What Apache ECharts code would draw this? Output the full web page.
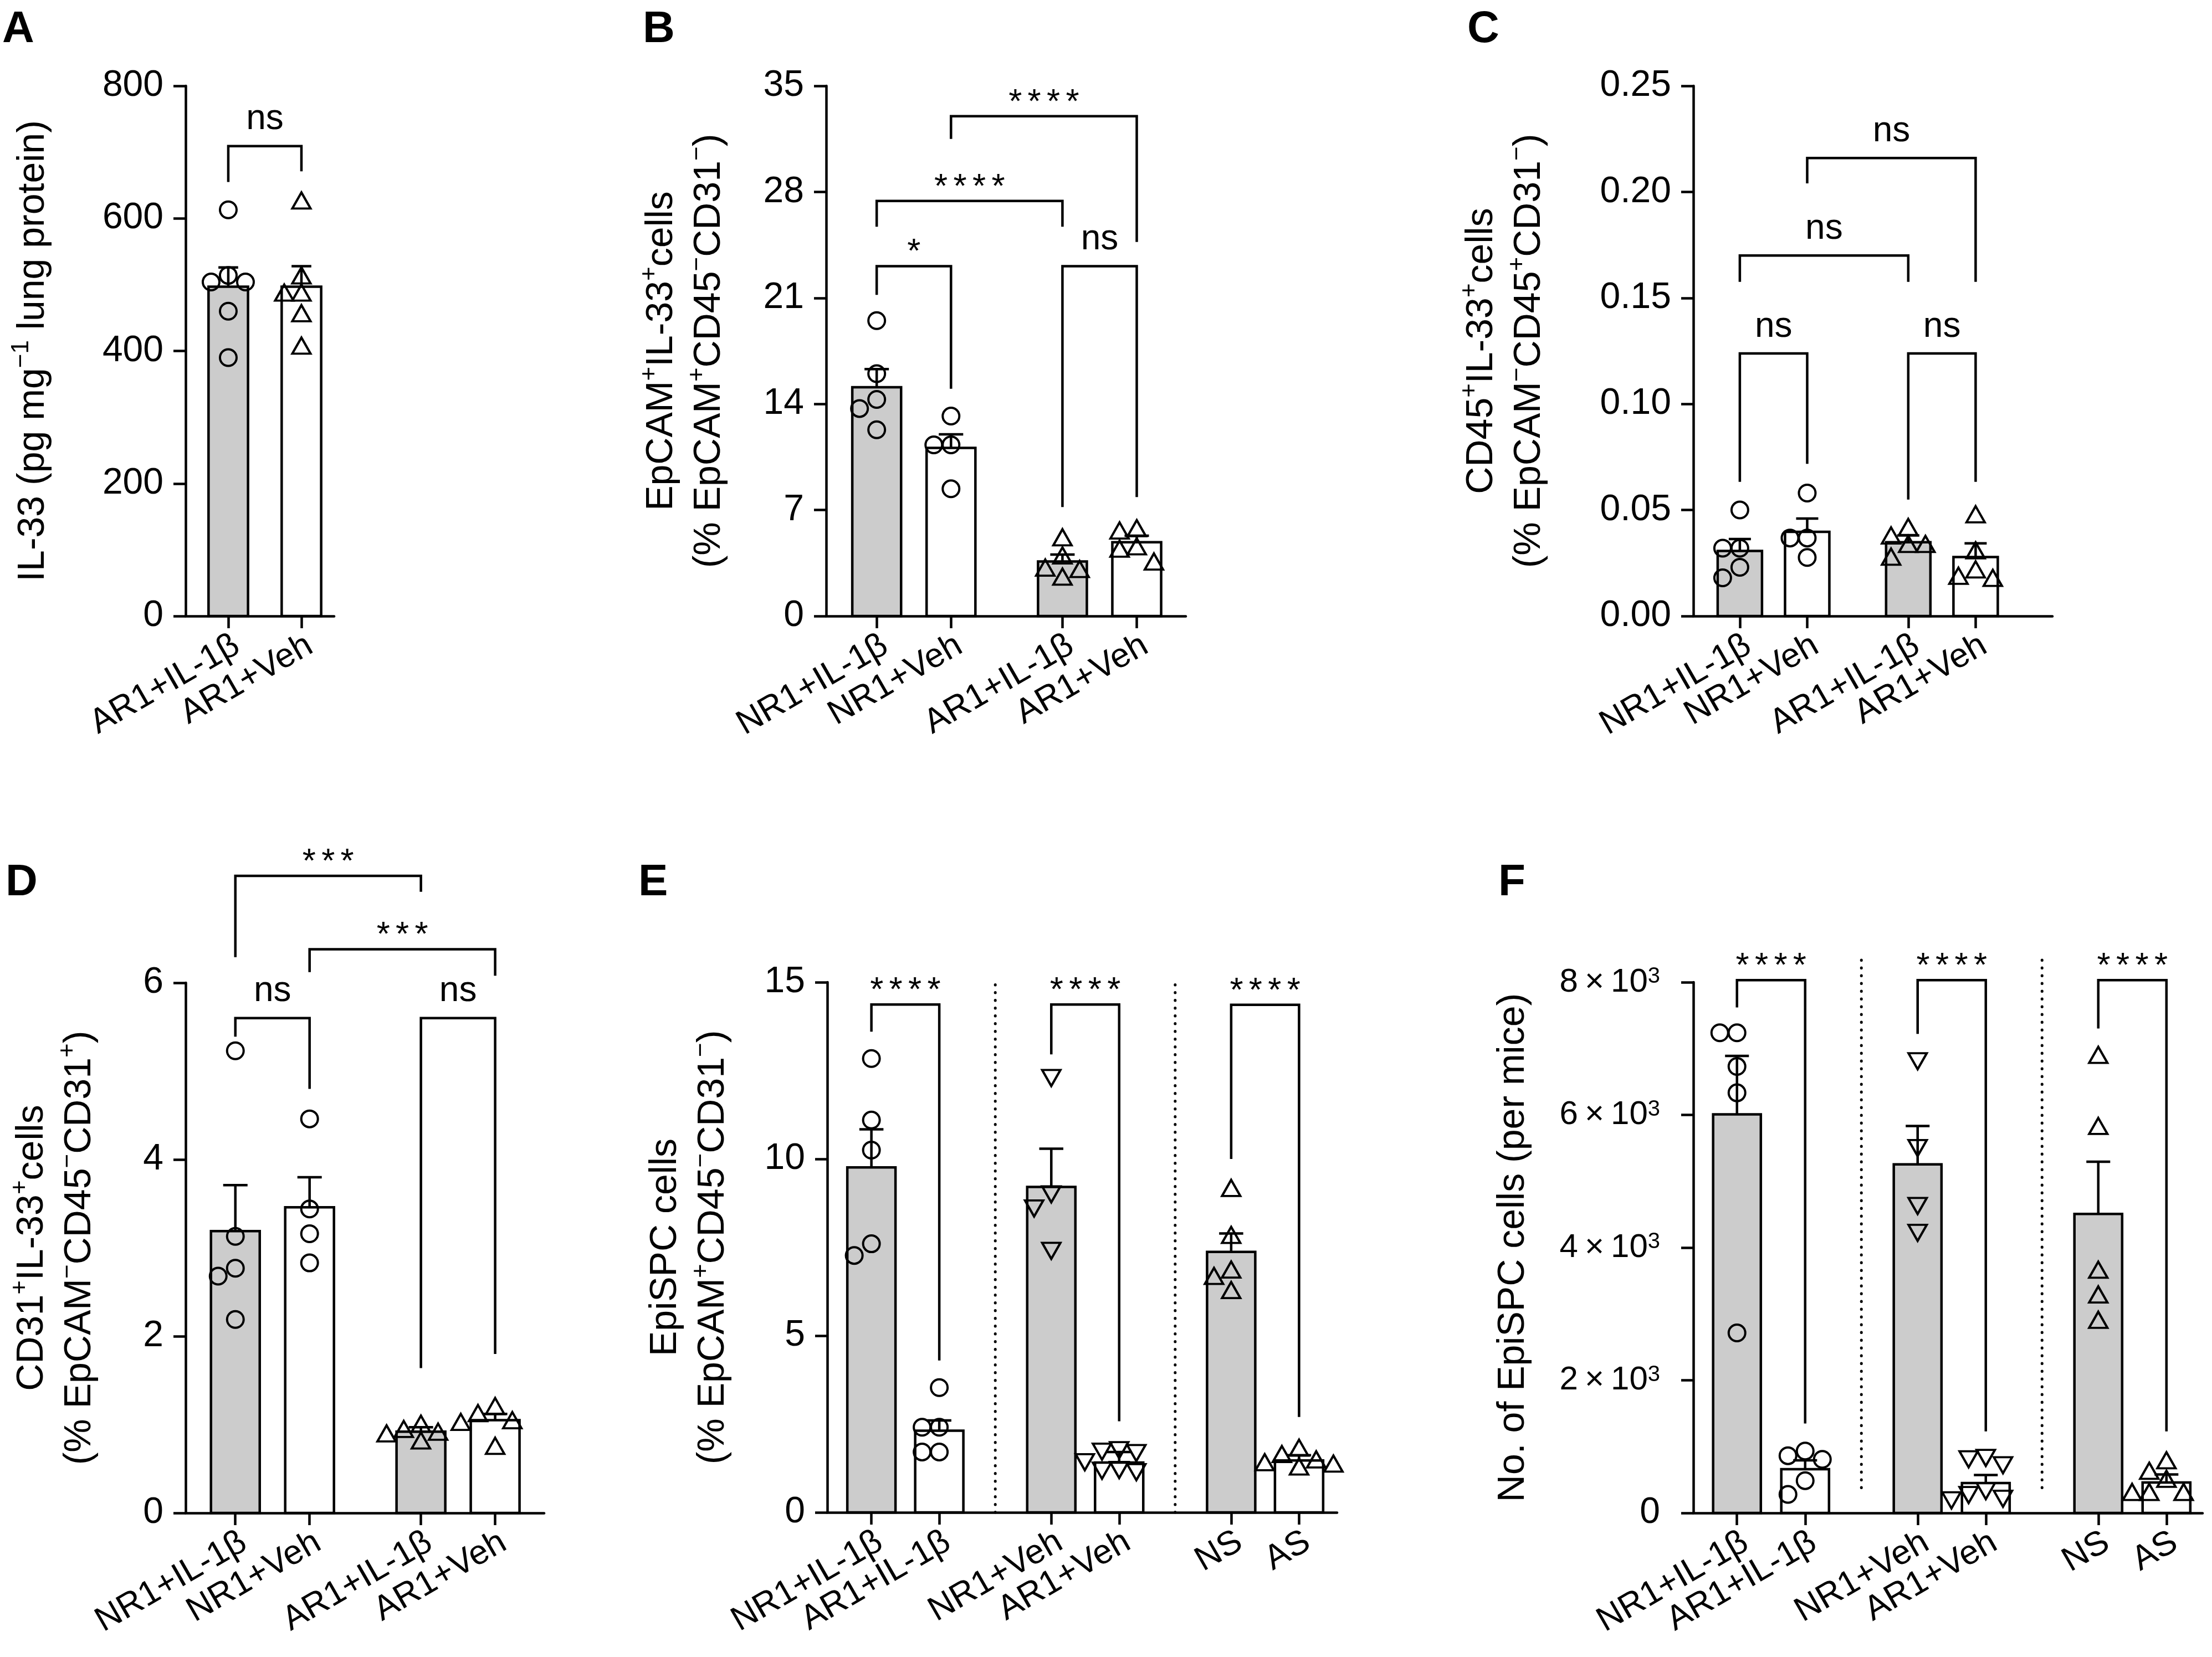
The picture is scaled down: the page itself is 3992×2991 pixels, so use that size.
<!DOCTYPE html>
<html><head><meta charset="utf-8">
<script src="https://cdn.jsdelivr.net/npm/echarts@6/dist/echarts.min.js"></script>
<style>html,body{margin:0;padding:0;background:#fff}#c{width:3992px;height:2991px}</style>
</head><body><div id="c"></div>
<script>
const FONT = '"Liberation Sans", Arial, Helvetica, sans-serif';

// ---------- Panel A ----------
const catA = ['AR1+IL-1β', 'AR1+Veh'];
const posA = [0, 1];
const meanA = [497, 497];
const errTopA = [526, 528];
const ptsA = [[613, 514, 504, 504, 460, 390], [627, 514, 488, 488, 457, 408]];
const sigA = [[0, 1, 709, 655, 671]];
const sigLabA = ['ns'];
const yAxisA = [0, 800, 200];

// ---------- Panel B ----------
const catB = ['NR1+IL-1β', 'NR1+Veh', 'AR1+IL-1β', 'AR1+Veh'];
const posB = [0, 1, 2.5, 3.5];
const meanB = [15.1, 11.1, 3.6, 4.87];
const errTopB = [16.3, 12.0, 4.06, 5.3];
const ptsB = [[19.5, 16.0, 14.3, 13.7, 12.3], [13.2, 11.3, 11.3, 8.4], [5.2, 4.0, 3.2, 3.1, 2.6], [5.8, 5.65, 4.6, 4.45, 3.6]];
const sigB = [[0, 1, 23.1, 21.2, 15.0], [2, 3, 23.1, 7.2, 7.85], [0, 2, 27.4, 25.7, 25.7], [1, 3, 33.0, 31.5, 24.7]];
const sigLabB = ['*', 'ns', '****', '****'];
const yAxisB = [0, 35, 7];

// ---------- Panel C ----------
const catC = ['NR1+IL-1β', 'NR1+Veh', 'AR1+IL-1β', 'AR1+Veh'];
const posC = [0, 1, 2.5, 3.5];
const meanC = [0.0307, 0.0397, 0.0348, 0.0278];
const errTopC = [0.0363, 0.046, 0.038, 0.0343];
const ptsC = [[0.050, 0.032, 0.032, 0.023, 0.018], [0.058, 0.0368, 0.0368, 0.0276], [0.042, 0.038, 0.034, 0.034, 0.028], [0.048, 0.031, 0.022, 0.019, 0.018]];
const sigC = [[0, 1, 0.1238, 0.0633, 0.0718], [2, 3, 0.1238, 0.0549, 0.0633], [0, 2, 0.170, 0.1576, 0.1576], [1, 3, 0.216, 0.204, 0.1576]];
const sigLabC = ['ns', 'ns', 'ns', 'ns'];
const yAxisC = [0, 0.25, 0.05];

// ---------- Panel D ----------
const catD = ['NR1+IL-1β', 'NR1+Veh', 'AR1+IL-1β', 'AR1+Veh'];
const posD = [0, 1, 2.5, 3.5];
const meanD = [3.19, 3.46, 0.92, 1.05];
const errTopD = [3.71, 3.80, 0.97, 1.12];
const ptsD = [[5.23, 3.13, 2.77, 2.68, 2.19], [4.46, 3.44, 3.16, 2.83], [1.01, 0.95, 0.92, 0.90, 0.82], [1.21, 1.13, 1.05, 1.03, 0.76]];
const sigD = [[0, 1, 5.6, 5.39, 4.80], [2, 3, 5.6, 1.64, 1.80], [0, 2, 7.21, 6.29, 7.03], [1, 3, 6.38, 6.12, 6.08]];
const sigLabD = ['ns', 'ns', '***', '***'];
const yAxisD = [0, 6, 2];

// ---------- Panel E ----------
const catE = ['NR1+IL-1β', 'AR1+IL-1β', 'NR1+Veh', 'AR1+Veh', 'NS', 'AS'];
const posE = [0, 1, 2.65, 3.65, 5.3, 6.3];
const meanE = [9.76, 2.31, 9.21, 1.41, 7.37, 1.47];
const errTopE = [10.84, 2.6, 10.29, 1.71, 7.89, 1.62];
const ptsE = [[12.84, 11.1, 10.25, 7.6, 7.27], [3.53, 2.41, 2.41, 1.71, 1.71], [12.29, 9.0, 8.6, 7.4],
              [1.76, 1.72, 1.68, 1.42, 1.2, 1.18, 1.14], [9.18, 7.85, 6.87, 6.69, 6.29], [1.83, 1.65, 1.5, 1.42, 1.38, 1.3]];
const sigE = [[0, 1, 14.37, 13.6, 4.3], [2, 3, 14.37, 12.96, 2.58], [4, 5, 14.36, 10.0, 2.7]];
const sigLabE = ['****', '****', '****'];
const yAxisE = [0, 15, 5];
const sepRangeE = [0, 15];

// ---------- Panel F ----------
const catF = ['NR1+IL-1β', 'AR1+IL-1β', 'NR1+Veh', 'AR1+Veh', 'NS', 'AS'];
const posF = [0, 1, 2.65, 3.65, 5.3, 6.3];
const meanF = [6008, 660, 5254, 451, 4508, 460];
const errTopF = [6889, 794, 5833, 571, 5294, 580];
const ptsF = [[7238, 7238, 6730, 6333, 2714], [933, 863, 808, 487, 279], [6810, 5500, 4627, 4222],
              [830, 810, 720, 330, 270, 215, 190], [6905, 5833, 3666, 3294, 2912], [794, 635, 515, 317, 317, 317]];
const sigF = [[0, 1, 8032, 7619, 1349], [2, 3, 8032, 7222, 1230], [4, 5, 8032, 7302, 1230]];
const sigLabF = ['****', '****', '****'];
const yAxisF = [0, 8000, 2000];
const sepRangeF = [380, 8420];

// ---------- styles / layout ----------
const GRAY = '#cccccc', WHITE = '#ffffff';
const LW = 4.5;
const panels = [
  {letter: 'A', lp: [4, 14], cats: catA, pos: posA, mean: meanA, err: errTopA, pts: ptsA, sig: sigA, sigLab: sigLabA, y: yAxisA,
   grid: {left: 335, top: 155, width: 268, height: 957}, xr: [-0.583, 1.447], bf: 0.54, nameGap: 232,
   fills: [GRAY, WHITE], marks: ['circle', 'triangle'],
   name: 'IL-33 (pg mg{sup|−1} lung protein)'},
  {letter: 'B', lp: [1160, 14], cats: catB, pos: posB, mean: meanB, err: errTopB, pts: ptsB, sig: sigB, sigLab: sigLabB, y: yAxisB,
   grid: {left: 1491, top: 155, width: 649, height: 957}, xr: [-0.68, 4.16], bf: 0.657, nameGap: 168,
   fills: [GRAY, WHITE, GRAY, WHITE], marks: ['circle', 'circle', 'triangle', 'triangle'],
   name: 'EpCAM{sup|+}IL-33{sup|+}cells\n(% EpCAM{sup|+}CD45{sup|−}CD31{sup|−})'},
  {letter: 'C', lp: [2648, 14], cats: catC, pos: posC, mean: meanC, err: errTopC, pts: ptsC, sig: sigC, sigLab: sigLabC, y: yAxisC,
   grid: {left: 3056, top: 155, width: 648, height: 957}, xr: [-0.69, 4.64], bf: 0.658, nameGap: 253, dec: 2,
   fills: [GRAY, WHITE, GRAY, WHITE], marks: ['circle', 'circle', 'triangle', 'triangle'],
   name: 'CD45{sup|+}IL-33{sup|+}cells\n(% EpCAM{sup|−}CD45{sup|+}CD31{sup|−})'},
  {letter: 'D', lp: [10, 1554], cats: catD, pos: posD, mean: meanD, err: errTopD, pts: ptsD, sig: sigD, sigLab: sigLabD, y: yAxisD,
   grid: {left: 335, top: 1774, width: 647, height: 957}, xr: [-0.67, 4.16], bf: 0.657, nameGap: 148,
   fills: [GRAY, WHITE, GRAY, WHITE], marks: ['circle', 'circle', 'triangle', 'triangle'],
   name: 'CD31{sup|+}IL-33{sup|+}cells\n(% EpCAM{sup|−}CD45{sup|−}CD31{sup|+})'},
  {letter: 'E', lp: [1152, 1554], cats: catE, pos: posE, mean: meanE, err: errTopE, pts: ptsE, sig: sigE, sigLab: sigLabE, y: yAxisE,
   grid: {left: 1493, top: 1773, width: 920, height: 957}, xr: [-0.65, 6.86], bf: 0.71, nameGap: 163, sep: sepRangeE,
   fills: [GRAY, WHITE, GRAY, WHITE, GRAY, WHITE], marks: ['circle', 'circle', 'tdown', 'tdown', 'triangle', 'triangle'],
   name: 'EpiSPC cells\n(% EpCAM{sup|+}CD45{sup|−}CD31{sup|−})'},
  {letter: 'F', lp: [2704, 1554], cats: catF, pos: posF, mean: meanF, err: errTopF, pts: ptsF, sig: sigF, sigLab: sigLabF, y: yAxisF,
   grid: {left: 3056, top: 1773, width: 919, height: 958}, xr: [-0.64, 6.83], bf: 0.70, nameGap: 282, sep: sepRangeF, sci: true,
   fills: [GRAY, WHITE, GRAY, WHITE, GRAY, WHITE], marks: ['circle', 'circle', 'tdown', 'tdown', 'triangle', 'triangle'],
   name: 'No. of EpiSPC cells (per mice)'}
];

function swarm(vals, pxPerUnit, s) {
  const placed = [], offs = [];
  vals.forEach(v => {
    const py = v * pxPerUnit;
    const cands = [0];
    for (let k = 1; k < 6; k++) cands.push(-k * s, k * s);
    let chosen = 0;
    for (const c of cands) {
      if (placed.every(p => Math.hypot(p[0] - c, p[1] - py) >= s * 0.95)) { chosen = c; break; }
    }
    placed.push([chosen, py]);
    offs.push(chosen);
  });
  return offs;
}

const grids = [], xAxes = [], yAxes = [], series = [], graphics = [];
panels.forEach((p, i) => {
  grids.push(p.grid);
  const fmtX = v => { const k = p.pos.findIndex(q => Math.abs(q - v) < 1e-6); return k >= 0 ? p.cats[k] : ''; };
  const labBase = {show: true, formatter: fmtX, rotate: 30, margin: 22,
                   align: 'right', verticalAlign: 'top', hideOverlap: false,
                   showMinLabel: true, showMaxLabel: true,
                   fontSize: 62, fontFamily: FONT, color: '#000'};
  const evenPos = p.pos.filter((q, k) => k % 2 === 0);
  const oddPos = p.pos.filter((q, k) => k % 2 === 1);
  const xi = xAxes.length;
  // main x axis: line, ticks, labels of even-indexed groups
  xAxes.push({
    type: 'value', gridIndex: i, min: p.xr[0], max: p.xr[1], position: 'bottom',
    axisLine: {show: true, onZero: false, lineStyle: {color: '#000', width: LW}},
    axisTick: {show: true, customValues: p.pos, length: 22, lineStyle: {color: '#000', width: LW}},
    axisLabel: Object.assign({}, labBase, {customValues: evenPos}),
    splitLine: {show: false}
  });
  // companion axis carrying the odd-indexed labels (same scale, same place)
  xAxes.push({
    type: 'value', gridIndex: i, min: p.xr[0], max: p.xr[1], position: 'bottom', offset: 0,
    axisLine: {show: false, onZero: false}, axisTick: {show: false},
    axisLabel: Object.assign({}, labBase, {customValues: oddPos}),
    splitLine: {show: false}
  });
  const yLab = {fontSize: 66, fontFamily: FONT, color: '#000', margin: 40};
  if (p.dec) yLab.formatter = v => v.toFixed(p.dec);
  if (p.sci) {
    yLab.margin = 60;
    yLab.formatter = v => v === 0 ? '0' : '{m|' + (v / 1000) + '\u2009×\u200910}{s|3}';
    yLab.rich = {m: {fontSize: 60, fontFamily: FONT, color: '#000'},
                 s: {fontSize: 40, fontFamily: FONT, color: '#000', verticalAlign: 'top'}};
  }
  yAxes.push({
    type: 'value', gridIndex: i, min: p.y[0], max: p.y[1], interval: p.y[2],
    axisLine: {show: true, onZero: false, lineStyle: {color: '#000', width: LW}},
    axisTick: {show: true, length: 22, lineStyle: {color: '#000', width: LW}},
    axisLabel: yLab, splitLine: {show: false},
    name: p.name, nameLocation: 'middle', nameGap: p.nameGap, nameRotate: 90,
    nameTextStyle: {fontSize: 68, fontFamily: FONT, color: '#000', lineHeight: 86,
      rich: {sup: {fontSize: 44, fontFamily: FONT, color: '#000', verticalAlign: 'top'}}}
  });
  // bars
  series.push({
    type: 'custom', xAxisIndex: xi, yAxisIndex: i, z: 1, clip: false, silent: true,
    data: p.mean.map((m, k) => [p.pos[k], m]),
    renderItem: (params, api) => {
      const x = api.value(0), m = api.value(1);
      const top = api.coord([x, m]), bot = api.coord([x, 0]);
      const w = api.size([p.bf, 0])[0];
      return {type: 'rect', shape: {x: top[0] - w / 2, y: top[1], width: w, height: bot[1] - top[1]},
              style: {fill: p.fills[params.dataIndex], stroke: '#000', lineWidth: LW}};
    }
  });
  // points
  const pxPerUnit = p.grid.height / (p.y[1] - p.y[0]);
  const pdata = [];
  p.pts.forEach((grp, k) => {
    const sorted = grp.slice().sort((a, b) => b - a);
    const offs = swarm(sorted, pxPerUnit, 31);
    const mk = p.marks[k];
    sorted.forEach((v, j) => {
      pdata.push({
        value: [p.pos[k], v],
        symbol: mk === 'circle' ? 'circle' : 'triangle',
        symbolSize: mk === 'circle' ? 30 : [33, 29],
        symbolRotate: mk === 'tdown' ? 180 : 0,
        symbolOffset: [offs[j], 0]
      });
    });
  });
  series.push({
    type: 'scatter', xAxisIndex: xi, yAxisIndex: i, z: 2, clip: false, silent: true,
    data: pdata,
    itemStyle: {color: 'rgba(0,0,0,0)', borderColor: '#000', borderWidth: 4, opacity: 1}
  });
  // error bars (upper SEM)
  series.push({
    type: 'custom', xAxisIndex: xi, yAxisIndex: i, z: 3, clip: false, silent: true,
    data: p.mean.map((m, k) => [p.pos[k], m, p.err[k]]),
    renderItem: (params, api) => {
      const x = api.value(0), m = api.value(1), t = api.value(2);
      const a = api.coord([x, m]), b = api.coord([x, t]);
      const w = api.size([p.bf, 0])[0] * 0.5;
      return {type: 'group', children: [
        {type: 'line', shape: {x1: a[0], y1: a[1], x2: b[0], y2: b[1]}, style: {stroke: '#000', lineWidth: LW}},
        {type: 'line', shape: {x1: b[0] - w / 2, y1: b[1], x2: b[0] + w / 2, y2: b[1]}, style: {stroke: '#000', lineWidth: LW}}
      ]};
    }
  });
  // significance brackets
  series.push({
    type: 'custom', xAxisIndex: xi, yAxisIndex: i, z: 3, clip: false, silent: true,
    data: p.sig.map(s => [p.pos[s[0]], p.pos[s[1]], s[2], s[3], s[4]]),
    renderItem: (params, api) => {
      const x1 = api.value(0), x2 = api.value(1), yl = api.value(2), ya = api.value(3), yb = api.value(4);
      const pA = api.coord([x1, ya]), p1 = api.coord([x1, yl]), p2 = api.coord([x2, yl]), pB = api.coord([x2, yb]);
      const lab = p.sigLab[params.dataIndex];
      const star = lab.indexOf('*') >= 0;
      return {type: 'group', children: [
        {type: 'polyline', shape: {points: [pA, p1, p2, pB]}, style: {stroke: '#000', lineWidth: LW, fill: null}},
        {type: 'text', x: (p1[0] + p2[0]) / 2, y: p1[1] - (star ? 24 : 48),
         style: {text: star ? lab.split('').join('\u2006') : lab, fontSize: star ? 62 : 64, fontFamily: FONT,
                 fill: '#000', align: 'center', verticalAlign: 'middle'}}
      ]};
    }
  });
  // dotted separators
  if (p.sep) {
    const sd = [];
    for (let k = 1; k + 1 < p.pos.length; k += 2) sd.push([(p.pos[k] + p.pos[k + 1]) / 2, p.sep[0], p.sep[1]]);
    series.push({
      type: 'custom', xAxisIndex: xi, yAxisIndex: i, z: 1, clip: false, silent: true,
      data: sd,
      renderItem: (params, api) => {
        const a = api.coord([api.value(0), api.value(1)]), b = api.coord([api.value(0), api.value(2)]);
        return {type: 'line', shape: {x1: a[0], y1: a[1], x2: b[0], y2: b[1]},
                style: {stroke: '#000', lineWidth: 5, lineDash: [0.5, 13.5], lineCap: 'round'}};
      }
    });
  }
  graphics.push({type: 'text', left: p.lp[0], top: p.lp[1],
    style: {text: p.letter, fontSize: 80, fontWeight: 'bold', fontFamily: FONT, fill: '#000'}});
});

const chart = echarts.init(document.getElementById('c'), null, {renderer: 'canvas'});
chart.setOption({
  animation: false,
  backgroundColor: '#fff',
  grid: grids, xAxis: xAxes, yAxis: yAxes, series: series, graphic: graphics
});
</script></body></html>
